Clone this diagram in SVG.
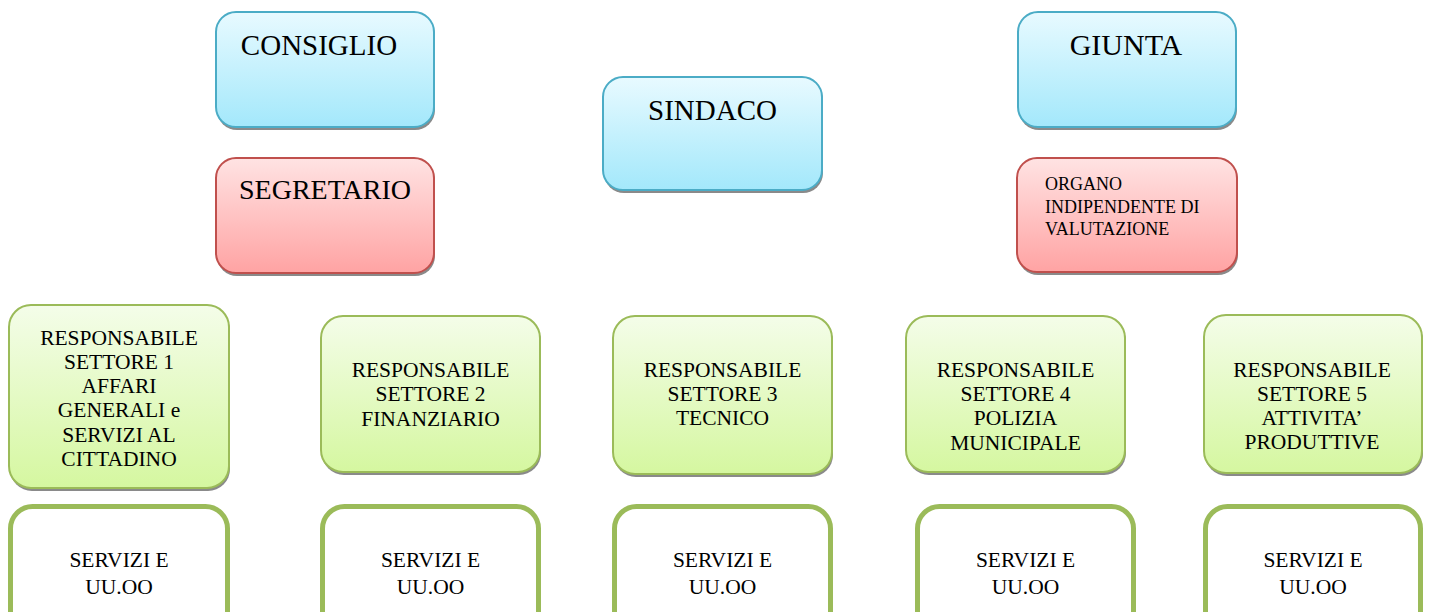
<svg xmlns="http://www.w3.org/2000/svg" width="1431" height="612" viewBox="0 0 1431 612">
<defs>
<linearGradient id="gBlue" x1="0" y1="0" x2="0" y2="1"><stop offset="0" stop-color="#e8faff"/><stop offset="1" stop-color="#a3e8fb"/></linearGradient>
<linearGradient id="gRed" x1="0" y1="0" x2="0" y2="1"><stop offset="0" stop-color="#ffe3e3"/><stop offset="1" stop-color="#ffa3a3"/></linearGradient>
<linearGradient id="gGreen" x1="0" y1="0" x2="0" y2="1"><stop offset="0" stop-color="#f4fde9"/><stop offset="1" stop-color="#d5f7a0"/></linearGradient>
</defs>
<style>
text{font-family:"Liberation Serif","Times New Roman",serif;fill:#000}
.shadow{fill:#8a8a8a}
.blue{fill:url(#gBlue);stroke:#4bacc6;stroke-width:2}
.red{fill:url(#gRed);stroke:#c0504d;stroke-width:2}
.green{fill:url(#gGreen);stroke:#9bbb59;stroke-width:2}
.serv{fill:#fff;stroke:#9bbb59;stroke-width:5}
.big{font-size:29px;text-anchor:middle}
.mid{font-size:21.5px;text-anchor:middle}
.small{font-size:18px}
</style>
<rect width="1431" height="612" fill="#fff"/>
<g id="connectors"></g>

<g id="consiglio">
<rect class="shadow" x="217" y="15" width="218" height="115" rx="20"/>
<rect class="blue" x="216" y="12" width="218" height="115" rx="20"/>
<text class="big" x="319" y="55">CONSIGLIO</text>
</g>
<g id="segretario">
<rect class="shadow" x="217" y="161" width="218" height="115" rx="20"/>
<rect class="red" x="216" y="158" width="218" height="115" rx="20"/>
<text class="big" x="325" y="199" style="font-size:28px">SEGRETARIO</text>
</g>
<g id="sindaco">
<rect class="shadow" x="604" y="80" width="219" height="113" rx="20"/>
<rect class="blue" x="603" y="77" width="219" height="113" rx="20"/>
<text class="big" x="712.5" y="120">SINDACO</text>
</g>
<g id="giunta">
<rect class="shadow" x="1019" y="15" width="218" height="115" rx="20"/>
<rect class="blue" x="1018" y="12" width="218" height="115" rx="20"/>
<text class="big" x="1126" y="55" style="font-size:30px">GIUNTA</text>
</g>
<g id="organo">
<rect class="shadow" x="1018" y="161" width="220" height="114" rx="20"/>
<rect class="red" x="1017" y="158" width="220" height="114" rx="20"/>
<text class="small" x="1045" y="190">ORGANO</text>
<text class="small" x="1045" y="213">INDIPENDENTE DI</text>
<text class="small" x="1045" y="235">VALUTAZIONE</text>
</g>

<g id="settore1">
<rect class="shadow" x="10" y="308" width="220" height="183" rx="22"/>
<rect class="green" x="9" y="305" width="220" height="183" rx="22"/>
<text class="mid" x="119" y="345">RESPONSABILE</text>
<text class="mid" x="119" y="369">SETTORE 1</text>
<text class="mid" x="119" y="393">AFFARI</text>
<text class="mid" x="119" y="417">GENERALI e</text>
<text class="mid" x="119" y="442">SERVIZI AL</text>
<text class="mid" x="119" y="466">CITTADINO</text>
</g>
<g id="settore2">
<rect class="shadow" x="322" y="319" width="219" height="156" rx="22"/>
<rect class="green" x="321" y="316" width="219" height="156" rx="22"/>
<text class="mid" x="430.5" y="377">RESPONSABILE</text>
<text class="mid" x="430.5" y="401">SETTORE 2</text>
<text class="mid" x="430.5" y="426">FINANZIARIO</text>
</g>
<g id="settore3">
<rect class="shadow" x="614" y="319" width="219" height="158" rx="22"/>
<rect class="green" x="613" y="316" width="219" height="158" rx="22"/>
<text class="mid" x="722.5" y="377">RESPONSABILE</text>
<text class="mid" x="722.5" y="401">SETTORE 3</text>
<text class="mid" x="722.5" y="425">TECNICO</text>
</g>
<g id="settore4">
<rect class="shadow" x="907" y="319" width="219" height="156" rx="22"/>
<rect class="green" x="906" y="316" width="219" height="156" rx="22"/>
<text class="mid" x="1015.5" y="377">RESPONSABILE</text>
<text class="mid" x="1015.5" y="401">SETTORE 4</text>
<text class="mid" x="1015.5" y="425">POLIZIA</text>
<text class="mid" x="1015.5" y="450">MUNICIPALE</text>
</g>
<g id="settore5">
<rect class="shadow" x="1205" y="318" width="218" height="158" rx="22"/>
<rect class="green" x="1204" y="315" width="218" height="158" rx="22"/>
<text class="mid" x="1312" y="377">RESPONSABILE</text>
<text class="mid" x="1312" y="401">SETTORE 5</text>
<text class="mid" x="1312" y="425">ATTIVITA’</text>
<text class="mid" x="1312" y="449">PRODUTTIVE</text>
</g>

<g id="servizi1">
<rect class="serv" x="10.5" y="506.5" width="217" height="130" rx="22"/>
<text class="mid" x="119" y="567">SERVIZI E</text>
<text class="mid" x="119" y="594">UU.OO</text>
</g>
<g id="servizi2">
<rect class="serv" x="322.5" y="506.5" width="216" height="130" rx="22"/>
<text class="mid" x="430.5" y="567">SERVIZI E</text>
<text class="mid" x="430.5" y="594">UU.OO</text>
</g>
<g id="servizi3">
<rect class="serv" x="614.5" y="506.5" width="216" height="130" rx="22"/>
<text class="mid" x="722.5" y="567">SERVIZI E</text>
<text class="mid" x="722.5" y="594">UU.OO</text>
</g>
<g id="servizi4">
<rect class="serv" x="917.5" y="506.5" width="216" height="130" rx="22"/>
<text class="mid" x="1025.5" y="567">SERVIZI E</text>
<text class="mid" x="1025.5" y="594">UU.OO</text>
</g>
<g id="servizi5">
<rect class="serv" x="1205.5" y="506.5" width="215" height="130" rx="22"/>
<text class="mid" x="1313" y="567">SERVIZI E</text>
<text class="mid" x="1313" y="594">UU.OO</text>
</g>
</svg>
